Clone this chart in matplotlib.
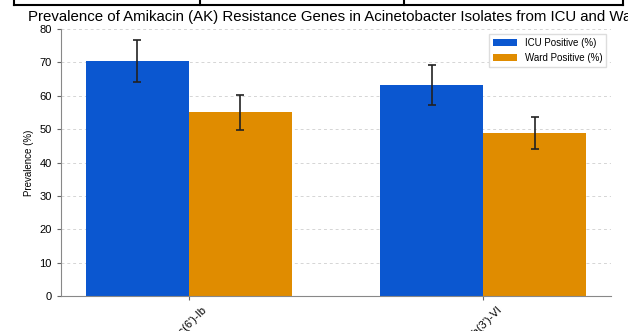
import matplotlib.pyplot as plt
import numpy as np
from matplotlib.lines import Line2D

plt.rcParams['font.family'] = ['Liberation Sans', 'DejaVu Sans']

# Data
genes = ["aac(6')-Ib", "aph(3')-VI"]
icu_positive = [70.5, 63.2]
ward_positive = [55.0, 48.8]
icu_err = [6.3, 6.0]
ward_err = [5.2, 4.8]

fig = plt.figure(figsize=(6.28, 3.31), dpi=100)
ax = fig.add_axes([0.0971, 0.106, 0.876, 0.806])

x = np.arange(len(genes))
width = 0.35
ax.bar(x - width / 2, icu_positive, width, yerr=icu_err, capsize=3,
       color='#0b57d0', label='ICU Positive (%)',
       error_kw=dict(ecolor='#222222', elinewidth=1.2, capthick=1.2))
ax.bar(x + width / 2, ward_positive, width, yerr=ward_err, capsize=3,
       color='#e08c00', label='Ward Positive (%)',
       error_kw=dict(ecolor='#222222', elinewidth=1.2, capthick=1.2))

ax.set_ylim(0, 80)
ax.set_xticks(x)
ax.set_xticklabels(genes, rotation=45, fontsize=8)
ax.tick_params(axis='y', labelsize=8, length=3, color='#666666')
ax.tick_params(axis='x', length=3, color='#666666')
ax.set_ylabel('Prevalence (%)', fontsize=7)
ax.set_title('Prevalence of Amikacin (AK) Resistance Genes in Acinetobacter Isolates from ICU and Ward',
             fontsize=10.8, pad=6)
ax.yaxis.grid(True, linestyle=(0, (3, 3)), color='#d5d5d5', linewidth=0.7)
ax.set_axisbelow(True)
for side in ['top', 'right']:
    ax.spines[side].set_visible(False)
for side in ['left', 'bottom']:
    ax.spines[side].set_color('#888888')
ax.legend(loc='upper right', fontsize=7, handlelength=2.5, framealpha=1,
          edgecolor='#dddddd', fancybox=False)

# table border left over above the chart
W, H = 628, 331
def fline(xs, ys):
    fig.add_artist(Line2D([v / W for v in xs], [1 - v / H for v in ys],
                          color='black', linewidth=1.5, transform=fig.transFigure))
fline([14, 623], [5, 5])
for xv in [14, 200, 404, 623]:
    fline([xv, xv], [0, 5])

fig.savefig('out.png', dpi=100)
